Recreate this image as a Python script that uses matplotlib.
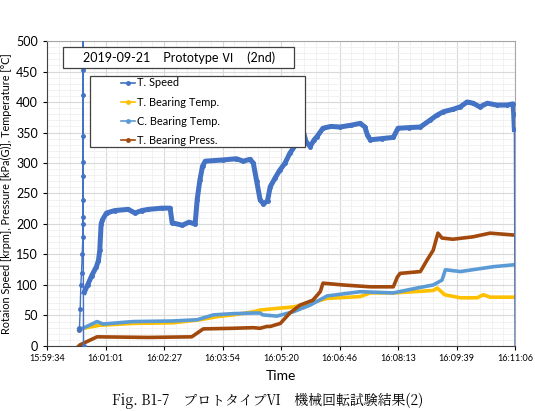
import matplotlib.pyplot as plt
from matplotlib.patches import Rectangle
from matplotlib.ticker import MultipleLocator, AutoMinorLocator

plt.rcParams['font.family'] = ['Lato', 'Noto Sans CJK JP', 'DejaVu Sans']

# time in seconds from 15:59:34
tick_pos = [0, 86.5, 173, 259.5, 346, 432.5, 519, 605.5, 692]
tick_labels = ['15:59:34', '16:01:01', '16:02:27', '16:03:54', '16:05:20',
               '16:06:46', '16:08:13', '16:09:39', '16:11:06']

# turbine speed [krpm]: start-up spike, main run, shut-down
speed_start_t = [47, 48, 49, 50, 51, 52, 53, 53, 53, 53, 53, 53, 53, 53, 53, 53, 54]
speed_start_v = [27, 30, 60, 100, 120, 150, 178, 200, 212, 240, 278, 302, 345, 412, 453, 520, 0]

speed_t = [55, 60, 66, 73, 76, 78, 80, 82, 88, 100, 120, 130, 140, 150, 170, 182,
           185, 200, 210, 219, 222, 226, 230, 234, 260, 280, 290, 300, 305, 310,
           315, 320, 326, 330, 337, 344, 352, 359, 369, 375, 379, 383, 389, 395,
           399, 408, 420, 433, 450, 463, 470, 474, 478, 495, 512, 519, 535, 552,
           566, 576, 586, 600, 611, 621, 630, 640, 651, 665, 680, 689, 690, 691]
speed_v = [88, 100, 115, 130, 140, 157, 200, 207, 218, 222, 224, 218, 222, 224, 226, 226,
           202, 198, 203, 200, 240, 272, 295, 303, 305, 307, 303, 306, 300, 270,
           240, 233, 238, 261, 275, 288, 300, 316, 332, 345, 351, 335, 327, 338,
           343, 357, 360, 359, 362, 365, 359, 345, 338, 340, 342, 357, 358, 359,
           370, 378, 384, 388, 392, 400, 398, 392, 398, 395, 395, 397, 380, 355]

speed_end_t = [691, 692]
speed_end_v = [355, 0]

# turbine bearing temperature [degC]
tbt_t = [47, 53, 78, 127, 186, 226, 251, 275, 305, 315, 344, 364, 389, 414,
         463, 478, 512, 571, 577, 588, 611, 636, 645, 655, 689]
tbt_v = [25, 29, 34, 37, 38, 43, 48, 51, 56, 59, 62, 64, 70, 78,
         81, 87, 87, 91, 95, 84, 79, 79, 84, 80, 80]

# compressor bearing temperature [degC]
cbt_t = [47, 53, 74, 83, 127, 186, 222, 246, 275, 305, 315, 319, 340, 364,
         389, 414, 463, 512, 547, 571, 584, 589, 611, 660, 689]
cbt_v = [27, 29, 40, 36, 40, 41, 43, 51, 53, 54, 54, 51, 49, 56,
         67, 82, 89, 87, 95, 100, 108, 125, 122, 130, 133]

# turbine bearing pressure [kPa(G)]
tbp_t = [47, 49, 74, 150, 214, 231, 275, 305, 315, 325, 330, 345, 359, 374,
         393, 404, 408, 438, 478, 512, 518, 522, 552, 562, 571, 578, 584, 600,
         630, 655, 689]
tbp_v = [0, 2, 15, 14, 15, 28, 29, 30, 29, 32, 32, 37, 54, 67,
         75, 89, 103, 100, 97, 97, 113, 119, 122, 141, 157, 185, 177, 175,
         179, 185, 182]

c_speed = '#4472C4'
c_tbt = '#FFC000'
c_cbt = '#5B9BD5'
c_tbp = '#A24A0E'

fig = plt.figure(figsize=(5.35, 4.11), dpi=100)
ax = fig.add_axes([0.0879, 0.1582, 0.8748, 0.742])

ax.plot(speed_start_t, speed_start_v, color=c_speed, lw=1.0, marker='o', ms=2.5, zorder=3)
ax.plot(speed_t, speed_v, color=c_speed, lw=3.6, marker='o', ms=2.5, zorder=3)
ax.plot(speed_end_t, speed_end_v, color=c_speed, lw=1.0, zorder=3)
ax.plot(tbt_t, tbt_v, color=c_tbt, lw=2.6, zorder=2)
ax.plot(cbt_t, cbt_v, color=c_cbt, lw=2.6, zorder=2)
ax.plot(tbp_t, tbp_v, color=c_tbp, lw=2.6, zorder=2)

ax.set_xlim(0, 692)
ax.set_ylim(0, 500)
ax.set_xticks(tick_pos)
ax.set_xticklabels(tick_labels, fontsize=6.5)
ax.xaxis.set_minor_locator(AutoMinorLocator(5))
ax.yaxis.set_major_locator(MultipleLocator(50))
ax.yaxis.set_minor_locator(MultipleLocator(10))
ax.tick_params(axis='y', labelsize=9, length=3, width=0.8)
ax.tick_params(axis='x', length=3, width=0.8, pad=3)
ax.tick_params(which='minor', length=0)
ax.grid(which='major', color='#D9D9D9', lw=0.8, zorder=0)
ax.grid(which='minor', color='#F0F0F0', lw=0.6, zorder=0)
ax.set_axisbelow(True)
for side in ['top', 'right']:
    ax.spines[side].set_color('#A6A6A6')
for side in ['left', 'bottom']:
    ax.spines[side].set_color('#404040')

ax.set_xlabel('Time', fontsize=10, labelpad=5)
ax.set_ylabel('Rotaion Speed [krpm], Pressure [kPa(G)], Temperature [°C]', fontsize=7.8, labelpad=3)

# title box
ax.add_patch(Rectangle((0.034, 0.911), 0.494, 0.069, transform=ax.transAxes,
                       facecolor='white', edgecolor='#404040', lw=0.9, zorder=5))
ax.text(0.283, 0.946, '2019-09-21    Prototype Ⅵ    (2nd)', transform=ax.transAxes,
        ha='center', va='center', fontsize=9, zorder=6)

# legend box
ax.add_patch(Rectangle((0.092, 0.652), 0.459, 0.233, transform=ax.transAxes,
                       facecolor='white', edgecolor='#404040', lw=0.9, zorder=5))
handles = [
    plt.Line2D([], [], color=c_speed, lw=1.2, marker='o', ms=2.5),
    plt.Line2D([], [], color=c_tbt, lw=1.2, marker='o', ms=2.5),
    plt.Line2D([], [], color=c_cbt, lw=1.2, marker='o', ms=2.5),
    plt.Line2D([], [], color=c_tbp, lw=1.2, marker='o', ms=2.5),
]
labels = ['T. Speed', 'T. Bearing Temp.', 'C. Bearing Temp.', 'T. Bearing Press.']
leg = ax.legend(handles, labels, loc='upper left', bbox_to_anchor=(0.148, 0.895),
                frameon=False, fontsize=7.9, handlelength=1.3, handletextpad=0.15,
                labelspacing=0.75, borderaxespad=0)
leg.set_zorder(7)

fig.text(0.5, 0.004, 'Fig. B1-7　プロトタイプⅥ　機械回転試験結果(2)', ha='center', va='bottom',
         fontsize=10, family=['Noto Serif CJK JP', 'Noto Sans CJK JP', 'DejaVu Serif'])

fig.savefig('out.png', dpi=100)
